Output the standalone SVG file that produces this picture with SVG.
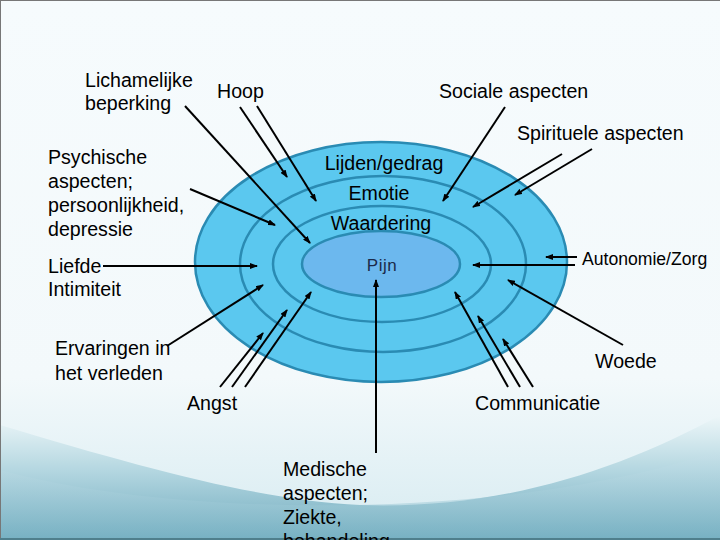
<svg xmlns="http://www.w3.org/2000/svg" width="720" height="540" viewBox="0 0 720 540">
<defs>
<linearGradient id="bg" x1="0" y1="0" x2="0" y2="1">
<stop offset="0" stop-color="#f6fbfd"/>
<stop offset="0.7" stop-color="#f3f9fb"/>
<stop offset="1" stop-color="#d7ebf1"/>
</linearGradient>
<linearGradient id="wave" x1="0" y1="0" x2="0" y2="1">
<stop offset="0" stop-color="#eef7f9"/>
<stop offset="0.45" stop-color="#b3d6e0"/>
<stop offset="1" stop-color="#6eaabd"/>
</linearGradient>
<linearGradient id="wave2" x1="0" y1="0" x2="0" y2="1">
<stop offset="0" stop-color="#c9e2ea"/>
<stop offset="1" stop-color="#7fb7c8"/>
</linearGradient>
<marker id="ah" viewBox="0 0 8 6" refX="7" refY="3" markerWidth="8" markerHeight="6" markerUnits="userSpaceOnUse" orient="auto">
<path d="M0,0 L8,3 L0,6 z" fill="#000"/>
</marker>
<style>
.t{font-family:"Liberation Sans",Arial,sans-serif;font-size:19.6px;fill:#000}
.s{font-family:"Liberation Sans",Arial,sans-serif;font-size:17.6px;fill:#000}
.ring{stroke:#2a8bb3;stroke-width:2.5}
.c line{stroke:#000;stroke-width:2;marker-end:url(#ah)}
</style>
</defs>
<rect x="0" y="0" width="720" height="540" fill="url(#bg)"/>
<path d="M0,425 C150,470 260,500 360,505 C500,510 620,470 720,415 L720,540 L0,540 Z" fill="url(#wave)"/>
<path d="M0,470 C180,520 520,520 720,450 L720,540 L0,540 Z" fill="url(#wave2)" opacity="0.5"/>
<path d="M0,540 L0,0 L720,0" fill="none" stroke="#777" stroke-width="2"/>
<line x1="0" y1="539" x2="720" y2="539" stroke="#4f7f8c" stroke-width="2"/>

<g id="rings">
<ellipse cx="381" cy="262" rx="186" ry="120" fill="#5bc8ef" class="ring"/>
<ellipse cx="383" cy="264" rx="143" ry="88" fill="#5bc8ef" class="ring"/>
<ellipse cx="382" cy="264" rx="109" ry="58" fill="#5bc8ef" class="ring"/>
<ellipse cx="381" cy="264" rx="79" ry="33" fill="#6cb8ee" class="ring"/>
</g>

<g id="ring-labels">
<text class="t" x="384" y="170" text-anchor="middle">Lijden/gedrag</text>
<text class="t" x="379" y="200" text-anchor="middle">Emotie</text>
<text class="t" x="381" y="230" text-anchor="middle">Waardering</text>
<text x="382" y="271" text-anchor="middle" style="font-family:'Liberation Sans',Arial,sans-serif;font-size:17px;letter-spacing:0.5px;fill:#1b2a4a">Pijn</text>
</g>

<g id="n-lichamelijke"><text class="t" x="85" y="87">Lichamelijke</text><text class="t" x="85" y="110">beperking</text></g>
<g id="n-hoop"><text class="t" x="217" y="98">Hoop</text></g>
<g id="n-sociale"><text class="t" x="439" y="98">Sociale aspecten</text></g>
<g id="n-spirituele"><text class="t" x="517" y="140">Spirituele aspecten</text></g>
<g id="n-psychische"><text class="t" x="48" y="164">Psychische</text><text class="t" x="48" y="188">aspecten;</text><text class="t" x="48" y="212">persoonlijkheid,</text><text class="t" x="48" y="236">depressie</text></g>
<g id="n-liefde"><text class="t" x="48" y="273">Liefde</text><text class="t" x="48" y="296">Intimiteit</text></g>
<g id="n-autonomie"><text class="s" x="582" y="265">Autonomie/Zorg</text></g>
<g id="n-ervaringen"><text class="t" x="55" y="355">Ervaringen in</text><text class="t" x="55" y="380">het verleden</text></g>
<g id="n-angst"><text class="t" x="187" y="410">Angst</text></g>
<g id="n-woede"><text class="t" x="595" y="368">Woede</text></g>
<g id="n-communicatie"><text class="t" x="475" y="410">Communicatie</text></g>
<g id="n-medische"><text class="t" x="283" y="476">Medische</text><text class="t" x="283" y="500">aspecten;</text><text class="t" x="283" y="524">Ziekte,</text><text class="t" x="283" y="548">behandeling</text></g>

<g id="connectors" class="c">
<line x1="185" y1="106" x2="310" y2="243"/>
<line x1="240" y1="107" x2="287" y2="177"/>
<line x1="257" y1="106" x2="316" y2="201"/>
<line x1="190" y1="189" x2="275" y2="225"/>
<line x1="103" y1="266" x2="257" y2="266"/>
<line x1="505" y1="107" x2="443" y2="201"/>
<line x1="562" y1="154" x2="473" y2="207"/>
<line x1="592" y1="149" x2="515" y2="195"/>
<line x1="577" y1="257" x2="546" y2="257"/>
<line x1="575" y1="265" x2="473" y2="265"/>
<line x1="376" y1="453" x2="376" y2="280"/>
<line x1="167" y1="346" x2="263" y2="285"/>
<line x1="220" y1="387" x2="263" y2="333"/>
<line x1="232" y1="387" x2="287" y2="310"/>
<line x1="245" y1="387" x2="311" y2="292"/>
<line x1="508" y1="387" x2="455" y2="292"/>
<line x1="520" y1="387" x2="478" y2="316"/>
<line x1="533" y1="387" x2="503" y2="339"/>
<line x1="623" y1="345" x2="508" y2="280"/>
</g>
</svg>
